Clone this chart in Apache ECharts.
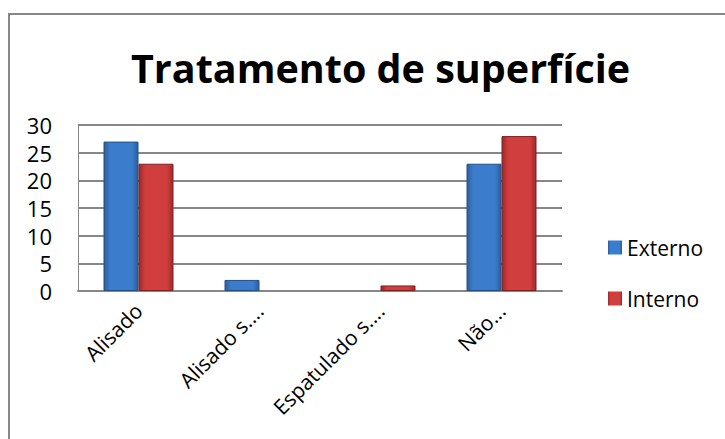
<!DOCTYPE html>
<html>
<head>
<meta charset="utf-8">
<script src="https://cdn.jsdelivr.net/npm/echarts@6.0.0/dist/echarts.min.js"></script>
<style>
  html, body { margin: 0; padding: 0; background: #fff; overflow: hidden; }
  #frame { position: absolute; left: 8px; top: 13px; width: 800px; height: 500px;
    border-left: 2px solid #878787; border-top: 2px solid #878787; }
  #chart { position: absolute; left: 0; top: 0; width: 725px; height: 439px; }
</style>
</head>
<body>
<div id="frame"></div>
<div id="chart"></div>
<script>
// Tratamento de superfície: counts per finish type, outside vs inside
const categories = ['Alisado', 'Alisado s....', 'Espatulado s....', 'Não...']
const externo = [27, 2, 0, 23]
const interno = [23, 0, 1, 28]
const yTicks = [0, 5, 10, 15, 20, 25, 30]

const font = 'Open Sans, Liberation Sans, sans-serif'

const barFill = (edge, mid) => new echarts.graphic.LinearGradient(0, 0, 1, 0, [
  { offset: 0, color: edge }, { offset: 0.18, color: mid },
  { offset: 0.82, color: mid }, { offset: 1, color: edge },
])

const blue = barFill('#2b5e9e', '#3b7dcc')
const red = barFill('#9c2a2a', '#d03e3d')

// zero-height bars get no outline, as in the original
const bars = (values, border) => values.map(v => ({
  value: v, itemStyle: { borderColor: border, borderWidth: v ? 1 : 0 },
}))

const chart = echarts.init(document.getElementById('chart'), null, { renderer: 'svg' })
chart.setOption({
  animation: false,
  title: {
    text: 'Tratamento de superfície', left: 126, top: 43,
    textStyle: { fontFamily: font, fontSize: 39.5, fontWeight: 'bold', color: '#000' },
  },
  legend: {
    orient: 'vertical', left: 603, top: 232, itemGap: 30, itemWidth: 14, itemHeight: 14,
    icon: 'rect',
    textStyle: { fontFamily: font, fontSize: 21, color: '#000' },
    data: ['Externo', 'Interno'],
  },
  grid: { left: 78, right: 163, top: 125, bottom: 148 },
  xAxis: {
    type: 'category', data: categories,
    axisLine: { lineStyle: { color: '#878787', width: 2 } },
    axisTick: { show: false },
    axisLabel: { fontFamily: font, fontSize: 21, color: '#000', rotate: 45, interval: 0, margin: 16 },
  },
  yAxis: {
    type: 'value', min: 0, max: 30, interval: 5,
    axisLine: { show: true, lineStyle: { color: '#878787', width: 1 } },
    axisTick: { show: false },
    axisLabel: { fontFamily: font, fontSize: 22, color: '#000', margin: 26,
      formatter: v => yTicks.includes(v) ? String(v) : '' },
    splitLine: { lineStyle: { color: '#878787', width: 2 } },
  },
  series: [
    { name: 'Externo', type: 'bar', data: bars(externo, '#244f85'), barWidth: 35, barGap: '0%',
      itemStyle: { color: blue } },
    { name: 'Interno', type: 'bar', data: bars(interno, '#7e2020'), barWidth: 35,
      itemStyle: { color: red } },
  ],
})
</script>
</body>
</html>
